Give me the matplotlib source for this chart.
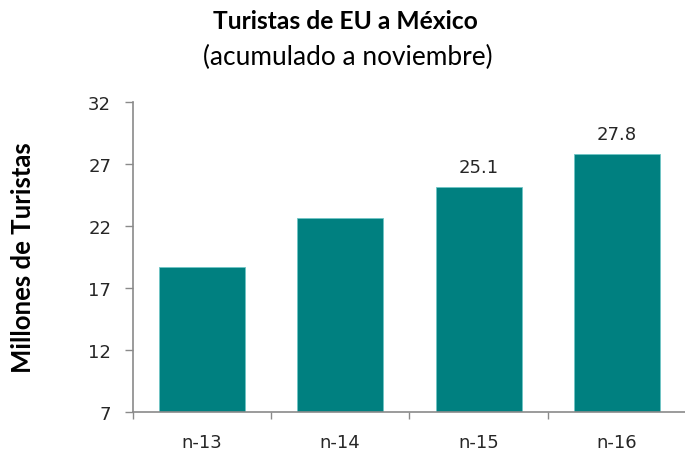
import matplotlib
matplotlib.use("Agg")
import matplotlib.pyplot as plt

categories = ["n-13", "n-14", "n-15", "n-16"]
values = [18.7, 22.6, 25.1, 27.8]
labeled = [False, False, True, True]
yticks = [7, 12, 17, 22, 27, 32]

fig = plt.figure(figsize=(6.85, 4.52), dpi=100)
ax = fig.add_axes([0.1937, 0.0869, 0.808, 0.6859])

x = list(range(len(categories)))
bars = ax.bar(x, values, width=0.62, color="#008080", edgecolor="#6fc5c5", linewidth=0.6, zorder=2)

for xi, v, lab in zip(x, values, labeled):
    if lab:
        ax.text(xi, v + 0.9, f"{v:.1f}", ha="center", va="bottom",
                fontsize=13, color="#262626", family="DejaVu Sans")

ax.set_xlim(-0.5, len(categories) - 0.5)
ax.set_ylim(7, 32)
ax.set_yticks(yticks)
ax.set_yticklabels([str(t) for t in yticks], fontsize=13, family="DejaVu Sans", color="#262626")
ax.set_xticks(x)
ax.set_xticklabels(categories, fontsize=13, family="DejaVu Sans", color="#262626")
ax.tick_params(axis="x", length=0, pad=15)
ax.tick_params(axis="y", length=6, width=1, color="#8a8a8a", pad=9.5)
# boundary ticks on x axis
ax.set_xticks([i - 0.5 for i in range(len(categories) + 1)], minor=True)
ax.tick_params(axis="x", which="minor", length=5, width=1, color="#8a8a8a")

for s in ["top", "right"]:
    ax.spines[s].set_visible(False)
for s in ["left", "bottom"]:
    ax.spines[s].set_color("#8a8a8a")
    ax.spines[s].set_linewidth(1.2)

fig.text(0.505, 0.935, "Turistas de EU a México", ha="center", va="baseline",
         fontsize=17.7, fontweight="bold", family="Lato")
fig.text(0.507, 0.857, "(acumulado a noviembre)", ha="center", va="baseline",
         fontsize=18.9, family="Lato")
fig.text(0.034, 0.43, "Millones de Turistas", rotation=90, ha="center", va="center",
         fontsize=18.5, fontweight="bold", family="Lato")

fig.savefig("out.png", dpi=100)
